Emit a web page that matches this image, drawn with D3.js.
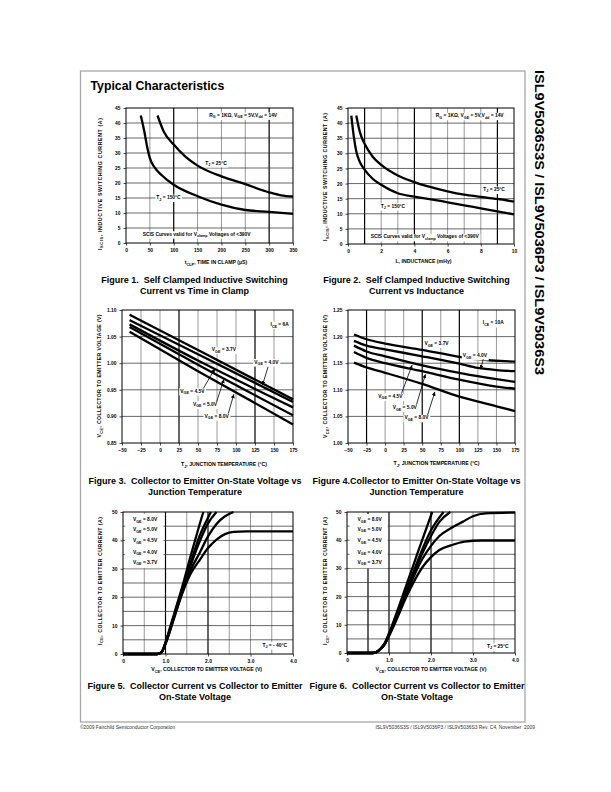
<!DOCTYPE html>
<html><head><meta charset="utf-8">
<script src="https://cdn.jsdelivr.net/npm/d3@7"></script>
<style>
body{margin:0;background:#fff;}
svg{display:block;}
text{font-family:"Liberation Sans",Arial,Helvetica,sans-serif;white-space:pre;}
</style></head><body>
<svg id="page" width="611" height="792"></svg>
<script>
// ================= DATA =================
// Figure 1: I_SCIS vs time in clamp (µs)
const fig1XTicks = [0,50,100,150,200,250,300,350];
const fig1YTicks = [0,5,10,15,20,25,30,35,40,45];
const fig1Tj25  = [[66,42.5],[79,37.2],[100,32.8],[125,28.7],[150,25.8],[200,22.2],[250,19.6],[300,16.9],[325,15.9],[350,15.5]];
const fig1Tj150 = [[31,42.5],[38,37.5],[45,31.5],[50,28.3],[60,25.2],[75,22.6],[100,19.4],[150,15.6],[200,12.8],[250,11.0],[300,10.4],[350,9.7]];

// Figure 2: I_SCIS vs inductance (mHy)
const fig2XTicks = [0,2,4,6,8,10];
const fig2XGrid  = [1,2,3,4,5,6,7,8,9];
const fig2YTicks = [0,5,10,15,20,25,30,35,40,45];
const fig2Tj25  = [[0.5,42.5],[0.65,38.5],[0.8,35.6],[1,33.2],[1.5,28.8],[2,26.2],[3,22.7],[4,20.5],[5,18.8],[6,17.4],[7,16.3],[8,15.6],[9,14.9],[10,14.0]];
const fig2Tj150 = [[0.2,42.5],[0.35,35.5],[0.5,30.6],[0.7,27.3],[1,24.6],[1.5,21.5],[2,19.6],[3,16.8],[4,15.7],[5,14.8],[6,13.8],[7,12.8],[8,11.8],[9,10.8],[10,9.8]];

// Figure 3: V_CE vs Tj, Ice = 6A
const fig3XTicks = [-50,-25,0,25,50,75,100,125,150,175];
const fig3YTicks = [0.85,0.90,0.95,1.00,1.05,1.10];
const fig3Vge37 = [[-40,1.091],[50,1.025],[175,0.932]];
const fig3Vge40 = [[-40,1.081],[50,1.017],[175,0.927]];
const fig3Vge45 = [[-40,1.073],[50,1.005],[175,0.917]];
const fig3Vge50 = [[-40,1.068],[50,0.997],[175,0.902]];
const fig3Vge80 = [[-40,1.059],[50,0.985],[175,0.885]];

// Figure 4: V_CE vs Tj, Ice = 10A
const fig4XTicks = [-50,-25,0,25,50,75,100,125,150,175];
const fig4YTicks = [1.00,1.05,1.10,1.15,1.20,1.25];
const fig4Vge37 = [[-42,1.204],[-25,1.195],[0,1.187],[50,1.175],[100,1.162],[125,1.157],[175,1.153]];
const fig4Vge40 = [[-42,1.192],[-25,1.183],[0,1.176],[50,1.163],[100,1.149],[125,1.141],[150,1.137],[175,1.135]];
const fig4Vge45 = [[-42,1.183],[-25,1.172],[0,1.163],[50,1.146],[100,1.132],[150,1.120],[175,1.115]];
const fig4Vge50 = [[-42,1.171],[-25,1.160],[0,1.150],[50,1.135],[100,1.119],[150,1.106],[175,1.102]];
const fig4Vge80 = [[-42,1.151],[-25,1.142],[0,1.132],[50,1.111],[100,1.087],[150,1.069],[175,1.060]];

// Figure 5: Ice vs Vce, Tj = -40°C
const fig5XTicks = [0,1,2,3,4];
const fig5XGrid  = [0.5,1,1.5,2,2.5,3,3.5];
const fig5YTicks = [0,10,20,30,40,50];
const fig5YGrid  = [5,10,15,20,25,30,35,40,45];
const fig5Vge80 = [[0,0],[0.8,0],[0.9,0.5],[1.0,4],[1.1,9],[1.2,14],[1.4,24],[1.6,35],[1.8,45.5],[1.89,50]];
const fig5Vge50 = [[0,0],[0.8,0],[0.9,0.5],[1.0,4],[1.1,8.5],[1.2,13.5],[1.4,23],[1.6,32.5],[1.8,41.5],[2.0,48],[2.07,50]];
const fig5Vge45 = [[0,0],[0.8,0],[0.9,0.5],[1.0,3.8],[1.1,8.3],[1.2,13.2],[1.4,22.5],[1.6,31.5],[1.8,39.5],[2.0,46],[2.2,50]];
const fig5Vge40 = [[0,0],[0.8,0],[0.9,0.5],[1.0,3.7],[1.1,8],[1.2,12.8],[1.4,22],[1.6,29.8],[1.8,35.5],[2.0,41.4],[2.2,45.8],[2.4,48.5],[2.6,50]];
const fig5Vge37 = [[0,0],[0.8,0],[0.9,0.5],[1.0,3.6],[1.1,7.8],[1.2,12.5],[1.4,21.5],[1.6,28.5],[1.8,33],[2.0,37.3],[2.2,40.3],[2.4,42.2],[2.6,43],[2.9,43.2],[4.0,43.2]];

// Figure 6: Ice vs Vce, Tj = 25°C
const fig6XTicks = [0,1,2,3,4];
const fig6XGrid  = [0.5,1,1.5,2,2.5,3,3.5];
const fig6YTicks = [0,10,20,30,40,50];
const fig6YGrid  = [5,10,15,20,25,30,35,40,45];
const fig6Vge80 = [[0,0],[0.6,0],[0.7,0.3],[0.8,1.5],[0.9,3.5],[1.0,7],[1.2,15],[1.4,23.5],[1.6,32],[1.8,40.5],[2.03,50]];
const fig6Vge50 = [[0,0],[0.6,0],[0.7,0.3],[0.8,1.5],[0.9,3.4],[1.0,6.6],[1.2,14],[1.4,22],[1.6,29.5],[1.8,37],[2.0,43.5],[2.3,50]];
const fig6Vge45 = [[0,0],[0.6,0],[0.7,0.3],[0.8,1.5],[0.9,3.3],[1.0,6.5],[1.2,13.5],[1.4,21],[1.6,28.5],[1.8,35.5],[2.0,41.5],[2.2,46.5],[2.46,50]];
const fig6Vge40 = [[0,0],[0.6,0],[0.7,0.3],[0.8,1.5],[0.9,3.2],[1.0,6.3],[1.2,13],[1.4,20.5],[1.6,27.5],[1.8,33.5],[2.0,38],[2.2,41.5],[2.5,44.5],[2.75,46.5],[3.0,48.5],[3.3,49.5],[4.0,49.8]];
const fig6Vge37 = [[0,0],[0.6,0],[0.7,0.3],[0.8,1.5],[0.9,3.1],[1.0,6],[1.2,12.5],[1.4,19.5],[1.6,25.5],[1.8,30.5],[2.0,34],[2.2,36.5],[2.5,38.3],[2.8,39.5],[3.2,39.9],[4.0,39.9]];

const legendVge = ["V_{GE} = 8.0V","V_{GE} = 5.0V","V_{GE} = 4.5V","V_{GE} = 4.0V","V_{GE} = 3.7V"];

// ================= DRAW =================
const svg = d3.select('#page');
svg.append('rect').attr('width',611).attr('height',792).attr('fill','#fff');
const defs = svg.append('defs');
defs.append('marker').attr('id','ah').attr('viewBox','0 0 6 6').attr('refX',6).attr('refY',3)
  .attr('markerWidth',4).attr('markerHeight',4).attr('markerUnits','userSpaceOnUse').attr('orient','auto')
  .append('path').attr('d','M0,0L6,3L0,6Z').attr('fill','#000');

function rich(t, str, fs){
  const re=/_\{([^}]*)\}/g; let last=0, m; const parts=[];
  while((m=re.exec(str))){ if(m.index>last) parts.push({t:str.slice(last,m.index)}); parts.push({t:m[1],sub:true}); last=re.lastIndex; }
  if(last<str.length) parts.push({t:str.slice(last)});
  let shifted=false;
  parts.forEach(p=>{
    const ts=t.append('tspan').text(p.t);
    if(p.sub){ ts.attr('font-size',fs*0.75).attr('dy',fs*0.3); shifted=true; }
    else if(shifted){ ts.attr('dy',-fs*0.3); shifted=false; }
  });
  return t;
}

// frame
svg.append('rect').attr('x',80.5).attr('y',71).attr('width',444.5).attr('height',651)
  .attr('fill','none').attr('stroke','#a8a8a8').attr('stroke-width',1.3);

svg.append('text').attr('x',90.5).attr('y',89.5).attr('font-size',12.3).attr('font-weight','bold').text('Typical Characteristics');

// side title
svg.append('text').attr('transform','translate(535,70) rotate(90)').attr('font-size',13.6).attr('font-weight','bold')
  .attr('textLength',305).attr('lengthAdjust','spacingAndGlyphs')
  .text('ISL9V5036S3S / ISL9V5036P3 / ISL9V5036S3');

// footer
svg.append('text').attr('x',80).attr('y',729).attr('font-size',4.9).attr('fill','#333').text('©2009 Fairchild Semiconductor Corporation');
svg.append('text').attr('x',535).attr('y',729).attr('font-size',4.9).attr('fill','#333').attr('text-anchor','end')
  .text('ISL9V5036S3S / ISL9V5036P3 / ISL9V5036S3 Rev. C4, November  2009');

const FS=4.9;
function chart(c){
  const g=svg.append('g');
  const x=d3.scaleLinear().domain(c.xDomain).range([c.left,c.right]);
  const y=d3.scaleLinear().domain(c.yDomain).range([c.bottom,c.top]);
  // grid
  g.append('g').selectAll('line').data(c.xGrid).join('line')
    .attr('x1',d=>x(d)).attr('x2',d=>x(d)).attr('y1',c.top).attr('y2',c.bottom)
    .attr('stroke',d=>c.darkX.includes(d)?'#000':'#8e8e8e').attr('stroke-width',d=>c.darkX.includes(d)?1.2:0.9);
  g.append('g').selectAll('line').data(c.yGrid).join('line')
    .attr('x1',c.left).attr('x2',c.right).attr('y1',d=>y(d)).attr('y2',d=>y(d))
    .attr('stroke','#2a2a2a').attr('stroke-width',0.7);
  // white boxes (legend area)
  (c.boxes||[]).forEach(b=>{
    g.append('rect').attr('x',x(b[0])).attr('y',y(b[3])).attr('width',x(b[1])-x(b[0])).attr('height',y(b[2])-y(b[3])).attr('fill','#fff');
  });
  // label texts (bg first)
  const lblG=g.append('g');
  const texts=[];
  c.labels.forEach(l=>{
    const t=lblG.append('text').attr('x',x(l.x)).attr('y',y(l.y)).attr('dy',FS*0.35)
      .attr('text-anchor',l.a||'middle').attr('font-size',FS).attr('font-weight','bold');
    rich(t,l.s,FS); texts.push(t);
  });
  texts.forEach(t=>{
    const bb=t.node().getBBox();
    lblG.insert('rect','text').attr('x',bb.x-1).attr('y',bb.y-0.5).attr('width',bb.width+2).attr('height',bb.height+1).attr('fill','#fff');
  });
  // frame
  g.append('rect').attr('x',c.left).attr('y',c.top).attr('width',c.right-c.left).attr('height',c.bottom-c.top)
    .attr('fill','none').attr('stroke','#000').attr('stroke-width',1);
  // curves
  const line=d3.line().x(d=>x(d[0])).y(d=>y(d[1])).curve(d3.curveMonotoneX);
  g.append('g').selectAll('path').data(c.series).join('path').attr('d',line)
    .attr('fill','none').attr('stroke','#000').attr('stroke-width',2.3).attr('stroke-linejoin','round');
  lblG.raise();
  // arrows
  g.append('g').selectAll('line').data(c.arrows||[]).join('line')
    .attr('x1',d=>x(d[0])).attr('y1',d=>y(d[1])).attr('x2',d=>x(d[2])).attr('y2',d=>y(d[3]))
    .attr('stroke','#000').attr('stroke-width',0.8).attr('marker-end','url(#ah)');
  // axes
  const ax=g.append('g').attr('transform',`translate(0,${c.bottom})`)
    .call(d3.axisBottom(x).tickValues(c.xTicks).tickFormat(c.xFmt).tickSize(2.5).tickPadding(3));
  const ay=g.append('g').attr('transform',`translate(${c.left},0)`)
    .call(d3.axisLeft(y).tickValues(c.yTicks).tickFormat(c.yFmt).tickSize(2.5).tickPadding(3));
  [ax,ay].forEach(a=>{
    a.select('.domain').remove();
    a.selectAll('text').attr('font-size',FS).attr('font-weight','bold').attr('font-family','"Liberation Sans",Arial,sans-serif').attr('fill','#000');
    a.selectAll('line').attr('stroke','#000').attr('stroke-width',0.7);
  });
  // axis titles
  const xt=g.append('text').attr('x',c.xTitlePos[0]).attr('y',c.xTitlePos[1]).attr('text-anchor','middle')
    .attr('font-size',FS+0.3).attr('font-weight','bold');
  rich(xt,c.xTitle,FS+0.3);
  const yt=g.append('text').attr('transform',`translate(${c.yTitlePos[0]},${c.yTitlePos[1]}) rotate(-90)`)
    .attr('text-anchor','middle').attr('dy',FS*0.35).attr('font-size',FS+0.3).attr('font-weight','bold');
  rich(yt,c.yTitle,FS+0.3);
  if(c.yTitleLen) yt.attr('textLength',c.yTitleLen).attr('lengthAdjust','spacing');
  // caption
  c.caption.forEach((s,i)=>{
    svg.append('text').attr('x',c.capX).attr('y',c.capY+i*10.5).attr('text-anchor','middle')
      .attr('font-size',9).attr('font-weight','bold').text(s);
  });
}

const f0=d=>d3.format('d')(d), f1=d=>d===0?'0':d3.format('.1f')(d), f2=d3.format('.2f');

chart({left:126,right:293,top:108,bottom:243,xDomain:[0,350],yDomain:[0,45],
  xTicks:fig1XTicks,yTicks:fig1YTicks,xFmt:f0,yFmt:f0,
  xGrid:[50,100,150,200,250,300],yGrid:[5,10,15,20,25,30,35,40],darkX:[100,300],
  series:[fig1Tj25,fig1Tj150],
  labels:[{s:'R_{G} = 1KΩ, V_{GE} = 5V,V_{dd} = 14V',x:245.6,y:42.6},
          {s:'T_{J} = 25°C',x:188.6,y:26.7},{s:'T_{J} = 150°C',x:89,y:15.2},
          {s:'SCIS Curves valid for V_{clamp} Voltages of <390V',x:148,y:3.0}],
  xTitle:'t_{CLP}, TIME IN CLAMP (µS)',xTitlePos:[216,264],
  yTitle:'I_{SCIS}, INDUCTIVE SWITCHING CURRENT (A)',yTitlePos:[100,184],yTitleLen:132,
  caption:['Figure 1.  Self Clamped Inductive Switching','Current vs Time in Clamp'],capX:194.5,capY:283});

chart({left:348,right:514,top:108,bottom:244,xDomain:[0,10],yDomain:[0,45],
  xTicks:fig2XTicks,yTicks:fig2YTicks,xFmt:f0,yFmt:f0,
  xGrid:fig2XGrid,yGrid:[5,10,15,20,25,30,35,40],darkX:[1,4,9],
  series:[fig2Tj25,fig2Tj150],
  labels:[{s:'R_{G} = 1KΩ, V_{GE} = 5V,V_{dd} = 14V',x:7.33,y:42.5},
          {s:'T_{J} = 25°C',x:8.8,y:18.1},{s:'T_{J} = 150°C',x:2.71,y:12.6},
          {s:'SCIS Curves valid for V_{clamp} Voltages of <390V',x:4.62,y:2.4}],
  xTitle:'L, INDUCTANCE (mHy)',xTitlePos:[423.5,263],
  yTitle:'I_{SCIS}, INDUCTIVE SWITCHING CURRENT (A)',yTitlePos:[325.7,177],yTitleLen:128,
  caption:['Figure 2.  Self Clamped Inductive Switching','Current vs Inductance'],capX:416.5,capY:283});

chart({left:122,right:293,top:310,bottom:443,xDomain:[-50,175],yDomain:[0.85,1.10],
  xTicks:fig3XTicks,yTicks:fig3YTicks,xFmt:f0,yFmt:f2,
  xGrid:[-25,0,25,50,75,100,125,150],yGrid:[0.90,0.95,1.00,1.05],darkX:[25,125],
  series:[fig3Vge37,fig3Vge40,fig3Vge45,fig3Vge50,fig3Vge80],
  labels:[{s:'I_{CE} = 6A',x:157.5,y:1.073},{s:'V_{GE} = 3.7V',x:84.1,y:1.0259},{s:'V_{GE} = 4.0V',x:140,y:1.0026},
          {s:'V_{GE} = 4.5V',x:42.6,y:0.948},{s:'V_{GE} = 5.0V',x:59.2,y:0.9229},{s:'V_{GE} = 8.0V',x:74.5,y:0.9003}],
  arrows:[[142.2,0.9932,134.8,0.9587],[57.0,0.9524,72.3,0.990],[74.5,0.9273,84.1,0.970],[89.8,0.9053,97.2,0.9417]],
  xTitle:'T_{J}, JUNCTION TEMPERATURE (°C)',xTitlePos:[224,466],
  yTitle:'V_{CE}, COLLECTOR TO EMITTER VOLTAGE (V)',yTitlePos:[99.5,376],yTitleLen:123,
  caption:['Figure 3.  Collector to Emitter On-State Voltage vs','Junction Temperature'],capX:195,capY:484});

chart({left:348,right:515,top:310,bottom:443,xDomain:[-50,175],yDomain:[1.00,1.25],
  xTicks:fig4XTicks,yTicks:fig4YTicks,xFmt:f0,yFmt:f2,
  xGrid:[-25,0,25,50,75,100,125,150],yGrid:[1.05,1.10,1.15,1.20],darkX:[-25,50,100],
  series:[fig4Vge37,fig4Vge40,fig4Vge45,fig4Vge50,fig4Vge80],
  labels:[{s:'I_{CE} = 10A',x:145.8,y:1.226},{s:'V_{GE} = 3.7V',x:69.3,y:1.1872},{s:'V_{GE} = 4.0V',x:121,y:1.164},
          {s:'V_{GE} = 4.5V',x:7.2,y:1.088},{s:'V_{GE} = 5.0V',x:26.5,y:1.0666},{s:'V_{GE} = 8.0V',x:42.3,y:1.0477}],
  arrows:[[132.3,1.1577,128.7,1.1388],[22,1.093,36.4,1.1464],[42.3,1.0722,54.4,1.1294],[57.1,1.0521,67,1.0961]],
  xTitle:'T_{J}, JUNCTION TEMPERATURE (°C)',xTitlePos:[436.5,465],
  yTitle:'V_{CE}, COLLECTOR TO EMITTER VOLTAGE (V)',yTitlePos:[325.7,376.5],yTitleLen:123,
  caption:['Figure 4.Collector to Emitter On-State Voltage vs','Junction Temperature'],capX:416.5,capY:484});

chart({left:123,right:293,top:512,bottom:654,xDomain:[0,4],yDomain:[0,50],
  xTicks:fig5XTicks,yTicks:fig5YTicks,xFmt:f1,yFmt:f0,
  xGrid:fig5XGrid,yGrid:fig5YGrid,darkX:[1,2],
  boxes:[[0.05,0.95,30.2,49.3]],
  series:[fig5Vge80,fig5Vge50,fig5Vge45,fig5Vge40,fig5Vge37],
  labels:[{s:legendVge[0],x:0.52,y:47.3},{s:legendVge[1],x:0.52,y:43.8},{s:legendVge[2],x:0.52,y:40},
          {s:legendVge[3],x:0.52,y:35.9},{s:legendVge[4],x:0.52,y:32.4},{s:'T_{J} = - 40°C',x:3.57,y:3.2}],
  xTitle:'V_{CE}, COLLECTOR TO EMITTER VOLTAGE (V)',xTitlePos:[206.7,671],
  yTitle:'I_{CE}, COLLECTOR TO EMITTER CURRENT (A)',yTitlePos:[100,581],yTitleLen:128,
  caption:['Figure 5.  Collector Current vs Collector to Emitter','On-State Voltage'],capX:195,capY:689});

chart({left:347,right:515,top:512,bottom:653,xDomain:[0,4],yDomain:[0,50],
  xTicks:fig6XTicks,yTicks:fig6YTicks,xFmt:f1,yFmt:f0,
  xGrid:fig6XGrid,yGrid:fig6YGrid,darkX:[0.5,1,2],
  boxes:[[0.06,0.97,30.05,49.3]],
  series:[fig6Vge80,fig6Vge50,fig6Vge45,fig6Vge40,fig6Vge37],
  labels:[{s:legendVge[0],x:0.54,y:47.3},{s:legendVge[1],x:0.54,y:43.9},{s:legendVge[2],x:0.54,y:39.9},
          {s:legendVge[3],x:0.54,y:35.75},{s:legendVge[4],x:0.54,y:32.2},{s:'T_{J} = 25°C',x:3.59,y:2.4}],
  xTitle:'V_{CE}, COLLECTOR TO EMITTER VOLTAGE (V)',xTitlePos:[431,671],
  yTitle:'I_{CE}, COLLECTOR TO EMITTER CURRENT (A)',yTitlePos:[325.7,581],yTitleLen:128,
  caption:['Figure 6.  Collector Current vs Collector to Emitter','On-State Voltage'],capX:417,capY:689});
</script>
</body></html>
